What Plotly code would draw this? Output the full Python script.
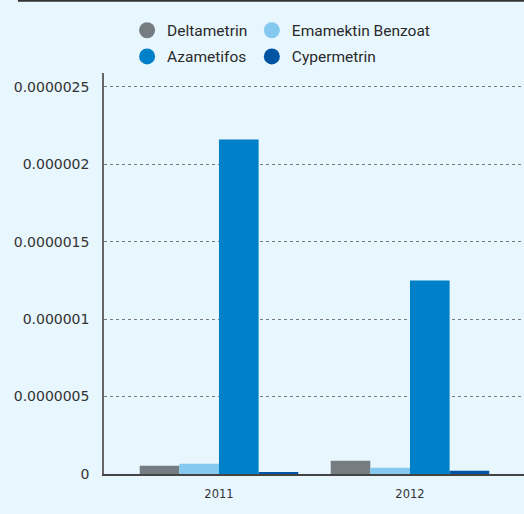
import plotly.graph_objects as go

years = ["2011", "2012"]
series_names = ["Deltametrin", "Emamektin Benzoat", "Azametifos", "Cypermetrin"]
deltametrin = [5.4e-8, 8.6e-8]
emamektin = [6.7e-8, 4.1e-8]
azametifos = [2.16e-6, 1.25e-6]
cypermetrin = [1.3e-8, 2.1e-8]
colors = ["#757d82", "#85c9f0", "#0080c8", "#0054a4"]
y_ticks = [0, 5e-7, 1e-6, 1.5e-6, 2e-6, 2.5e-6]
y_tick_text = ["0", "0.0000005", "0.000001", "0.0000015", "0.000002", "0.0000025"]

values = [deltametrin, emamektin, azametifos, cypermetrin]
legend_ids = ["legend", "legend2", "legend", "legend2"]

fig = go.Figure()
for name, vals, col in zip(series_names, values, colors):
    fig.add_trace(go.Bar(x=years, y=vals, name=name, marker=dict(color=col, line=dict(width=0)),
                         showlegend=False))
for i, (name, col) in enumerate(zip(series_names, colors)):
    fig.add_trace(go.Scatter(x=[None], y=[None], mode="markers", name=name,
                             marker=dict(color=col, size=16, symbol="circle"),
                             legend=legend_ids[i], legendgroup=name))

bg = "#e8f6fe"
legend_common = dict(orientation="v", bgcolor="rgba(0,0,0,0)", borderwidth=0,
                     font=dict(family="Roboto, sans-serif", size=15.5, color="#2a2a2a"),
                     yanchor="top", xanchor="left", tracegroupgap=3, itemwidth=30)
fig.update_layout(
    width=524, height=514,
    paper_bgcolor=bg, plot_bgcolor=bg,
    margin=dict(l=104, r=0, t=73, b=40),
    barmode="group", bargap=0.17, bargroupgap=0,
    legend=dict(x=0.055, y=1.148, **legend_common),
    legend2=dict(x=0.352, y=1.148, **legend_common),
    xaxis=dict(type="category", range=[-0.602, 1.597], showgrid=False,
               showline=True, linecolor="#444444", linewidth=1.5,
               ticks="", tickfont=dict(family="DejaVu Sans, sans-serif", size=11.5, color="#333333"),
               ticklabelstandoff=8),
    yaxis=dict(range=[0, 2.59e-6], tickvals=y_ticks, ticktext=y_tick_text,
               showgrid=True, gridcolor="#7a7a7a", griddash="dot", gridwidth=1,
               showline=True, linecolor="#666666", linewidth=1.5, zeroline=False,
               ticks="", tickfont=dict(family="DejaVu Sans, sans-serif", size=14, color="#333333"),
               ticklabelstandoff=10),
    shapes=[dict(type="line", xref="paper", yref="paper", x0=-0.205, x1=1.0, y0=1.18, y1=1.18,
                 line=dict(color="#333333", width=2))],
)
fig.write_html("out.html", config={"displayModeBar": False},
               post_script="document.body.style.margin='0';document.body.style.overflow='hidden';"
                           "document.documentElement.style.overflow='hidden';"
                           "document.body.style.background='%s';" % bg)
